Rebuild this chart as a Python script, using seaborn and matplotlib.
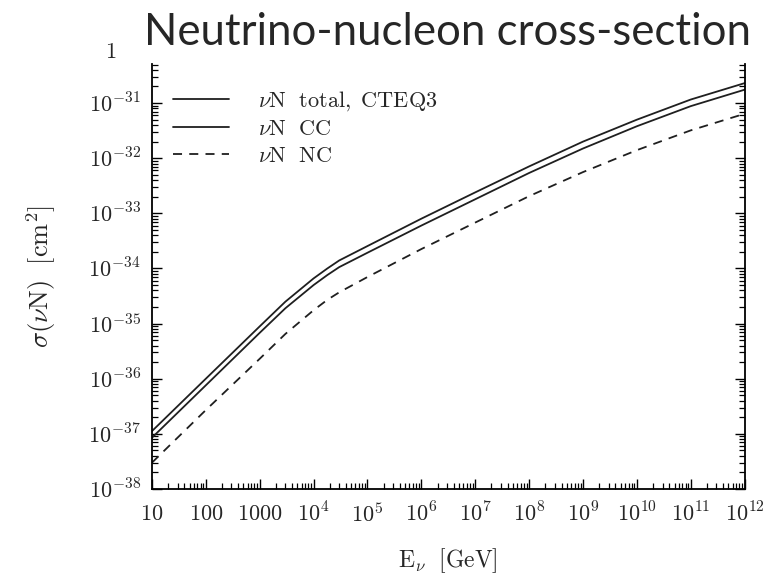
import numpy as np
import pandas as pd
import matplotlib
matplotlib.use("Agg")
import matplotlib.pyplot as plt
from matplotlib.ticker import FixedLocator, LogLocator, NullFormatter
import seaborn as sns

# Neutrino energy [GeV]
energy = [1e1, 1e2, 1e3, 3e3, 1e4, 1.8e4, 3e4, 1e5, 1e6, 1e7, 1e8, 1e9, 1e10, 1e11, 1e12]

# Cross sections [cm^2]
sigma_total = [1.12e-37, 1.0e-36, 8.9e-36, 2.5e-35, 6.6e-35, 1.0e-34, 1.4e-34, 2.55e-34,
               8.0e-34, 2.4e-33, 7.1e-33, 2.0e-32, 5.0e-32, 1.16e-31, 2.3e-31]
sigma_cc = [8.5e-38, 7.6e-37, 6.8e-36, 1.9e-35, 5.0e-35, 7.6e-35, 1.06e-34, 1.93e-34,
            6.0e-34, 1.8e-33, 5.4e-33, 1.5e-32, 3.8e-32, 8.8e-32, 1.75e-31]
sigma_nc = [3.0e-38, 2.7e-37, 2.3e-36, 6.5e-36, 1.75e-35, 2.7e-35, 3.7e-35, 7.0e-35,
            2.25e-34, 6.8e-34, 2.05e-33, 5.6e-33, 1.4e-32, 3.2e-32, 6.4e-32]

series_labels = [r"$\nu\mathrm{N\ \ total,\ CTEQ3}$", r"$\nu\mathrm{N\ \ CC}$", r"$\nu\mathrm{N\ \ NC}$"]

xtick_values = [1e1, 1e2, 1e3, 1e4, 1e5, 1e6, 1e7, 1e8, 1e9, 1e10, 1e11, 1e12]
xtick_labels = ["$10$", "$100$", "$1000$", "$10^{4}$", "$10^{5}$", "$10^{6}$", "$10^{7}$",
                "$10^{8}$", "$10^{9}$", "$10^{10}$", "$10^{11}$", "$10^{12}$"]
ytick_values = [1e-38, 1e-37, 1e-36, 1e-35, 1e-34, 1e-33, 1e-32, 1e-31]
ytick_labels = [r"$10^{-38}$", r"$10^{-37}$", r"$10^{-36}$", r"$10^{-35}$", r"$10^{-34}$",
                r"$10^{-33}$", r"$10^{-32}$", r"$10^{-31}$"]

df = pd.DataFrame({
    "E": energy * 3,
    "sigma": sigma_total + sigma_cc + sigma_nc,
    "process": [series_labels[0]] * len(energy) + [series_labels[1]] * len(energy)
               + [series_labels[2]] * len(energy),
})

sns.set_style("ticks")
plt.rcParams["mathtext.fontset"] = "cm"
plt.rcParams["font.family"] = ["DejaVu Serif"]

fig = plt.figure(figsize=(7.83, 5.76), dpi=100)
ax = fig.add_axes([0.194, 0.151, 0.757, 0.738])

line_color = "#1f1f1f"
sns.lineplot(data=df, x="E", y="sigma", hue="process", style="process",
             hue_order=series_labels, style_order=series_labels,
             palette=[line_color] * 3,
             dashes={series_labels[0]: "", series_labels[1]: "", series_labels[2]: (5, 4)},
             linewidth=1.3, ax=ax, legend=True)

ax.set_xscale("log")
ax.set_yscale("log")
ax.set_xlim(1e1, 1e12)
ax.set_ylim(1e-38, 10 ** -30.29)

ax.xaxis.set_major_locator(FixedLocator(xtick_values))
ax.set_xticklabels(xtick_labels)
ax.xaxis.set_minor_locator(LogLocator(base=10, subs=np.arange(2, 10), numticks=100))
ax.xaxis.set_minor_formatter(NullFormatter())
ax.yaxis.set_major_locator(FixedLocator(ytick_values))
ax.set_yticklabels(ytick_labels)
ax.yaxis.set_minor_locator(LogLocator(base=10, subs=np.arange(2, 10), numticks=100))
ax.yaxis.set_minor_formatter(NullFormatter())

ax.tick_params(axis="both", which="both", direction="in", color="black")
ax.tick_params(axis="y", which="both", left=True, right=True)
ax.tick_params(axis="both", which="major", length=7, width=1.0, labelsize=16, pad=8)
ax.tick_params(axis="x", which="major", pad=10)
ax.tick_params(axis="both", which="minor", length=4, width=0.9)

for side in ["left", "right", "bottom"]:
    ax.spines[side].set_visible(True)
    ax.spines[side].set_color("black")
    ax.spines[side].set_linewidth(1.3)
ax.spines["top"].set_visible(False)

ax.set_xlabel(r"$\mathrm{E}_{\nu}\ \ [\mathrm{GeV}]$", fontsize=17, labelpad=14)
ax.set_ylabel(r"$\sigma(\nu\mathrm{N})\ \ [\mathrm{cm}^{2}]$", fontsize=19, labelpad=22)

leg = ax.legend(loc="upper left", bbox_to_anchor=(0.036, 0.94), frameon=False,
                fontsize=16, handlelength=2.5, handletextpad=1.3, labelspacing=0.22,
                borderaxespad=0.0, borderpad=0.0)

# top decade label peeking out under the title
ax.text(-0.07, 1.028, "$1$", transform=ax.transAxes, fontsize=16, ha="center", va="center")

fig.suptitle("Neutrino-nucleon cross-section", x=0.571, y=0.98, fontsize=31.5,
             family=["Lato", "DejaVu Sans"], va="top")

fig.savefig("out.png", dpi=100, facecolor="white")
